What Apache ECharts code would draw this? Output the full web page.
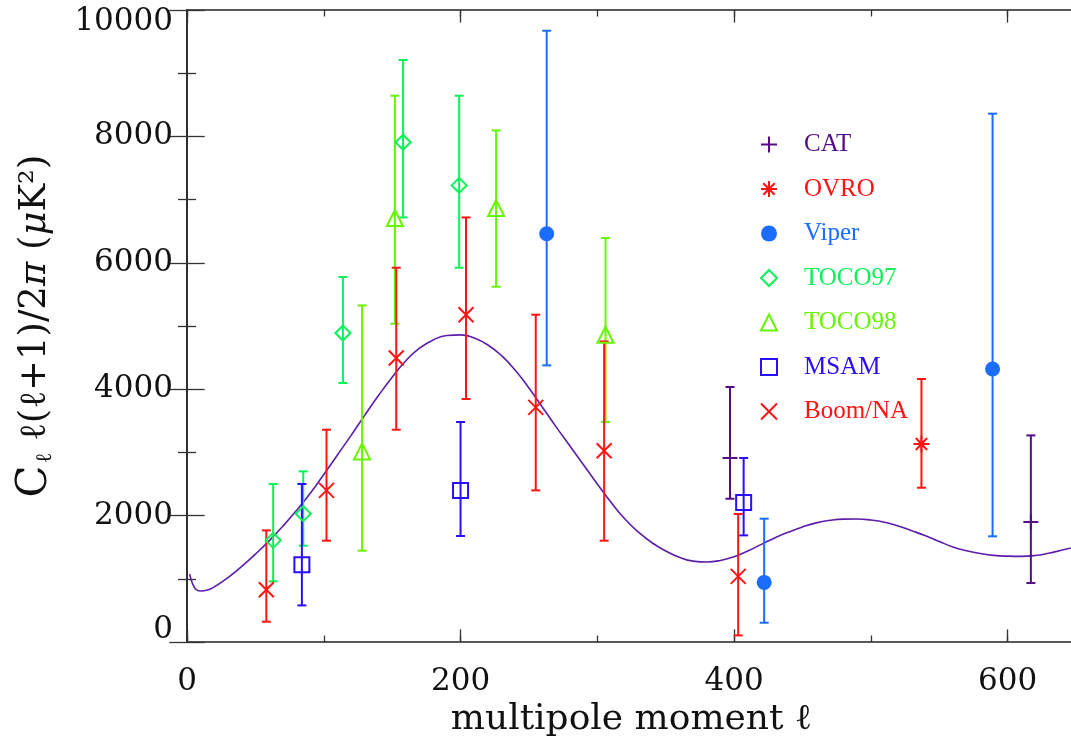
<!DOCTYPE html>
<html>
<head>
<meta charset="utf-8">
<script src="https://cdn.jsdelivr.net/npm/echarts@6/dist/echarts.min.js"></script>
<style>
html,body{margin:0;padding:0;background:#fff;}
#chart{width:1071px;height:740px;}
</style>
</head>
<body>
<div id="chart"></div>
<script>
// ---- data: [l, value, low, high] ----
const CAT    = [[397, 2911, 2267, 4035], [617, 1899, 933, 3269]];
const OVRO   = [[537, 3133, 2441, 4161]];
const VIPER  = [[263, 6460, 4377, 9672], [422, 943, 305, 1951], [589, 4320, 1672, 8360]];
const TOCO97 = [[63, 1608, 959, 2500], [85, 2030, 1524, 2700], [114, 4889, 4098, 5775], [158, 7907, 6718, 9209], [199, 7225, 5922, 8644]];
const TOCO98 = [[128, 3016, 1445, 5325], [152, 6709, 5036, 8644], [226, 6867, 5622, 8095], [306, 4862, 3481, 6392]];
const MSAM   = [[84, 1223, 579, 2500], [200, 2399, 1677, 3481], [407, 2209, 1687, 2911]];
const BOOM   = [[58, 828, 321, 1766], [102, 2399, 1603, 3359], [153, 4494, 3359, 5922], [204, 5179, 3845, 6718], [255, 3712, 2399, 5179], [305, 3027, 1603, 4756], [403, 1038, 104, 2025]];
// theory curve [l, value]
const THEORY = [[2,1075],[3,990],[5,880],[7,825],[10,808],[15,822],[20,872],[30,1020],[40,1195],[50,1390],[60,1600],[70,1830],[80,2080],[90,2350],[100,2650],[110,2960],[120,3270],[130,3590],[140,3900],[150,4190],[160,4450],[170,4650],[180,4780],[190,4850],[200,4860],[210,4810],[220,4700],[230,4530],[240,4300],[250,4020],[260,3710],[270,3400],[280,3100],[290,2800],[300,2500],[310,2210],[320,1950],[330,1740],[340,1570],[350,1440],[360,1340],[370,1280],[380,1266],[390,1290],[400,1350],[410,1440],[420,1545],[430,1650],[440,1740],[450,1820],[460,1885],[470,1925],[480,1944],[490,1946],[500,1930],[510,1895],[520,1835],[530,1760],[540,1680],[550,1590],[560,1505],[570,1445],[580,1400],[590,1370],[600,1358],[610,1355],[620,1368],[630,1405],[640,1455],[650,1505]];
const NAMES = ['CAT', 'OVRO', 'Viper', 'TOCO97', 'TOCO98', 'MSAM', 'Boom/NA'];
const X_TICKS = [0, 200, 400, 600];

const COLORS = {
  'CAT': '#540c88', 'OVRO': '#ff1212', 'Viper': '#1a6dff', 'TOCO97': '#0cf05a',
  'TOCO98': '#66f500', 'MSAM': '#2a0eff', 'Boom/NA': '#ff1414'
};
const CURVE_COLOR = '#5b1daa';
const SERIF = '"DejaVu Serif", serif';
const LEG_FONT = '"Liberation Serif", serif';

const SYM = {
  plus: 'path://M0,7L14,7M7,0L7,14',
  cross: 'path://M0,0L14,14M14,0L0,14',
  star: 'path://M0,9L18,9M9,0L9,18M2.6,2.6L15.4,15.4M15.4,2.6L2.6,15.4'
};
const CLEAR = 'rgba(0,0,0,0)';

function errorSeries(name, data) {
  const color = COLORS[name];
  return {
    type: 'custom', name: name + ' err', data: data, z: 2,
    xAxisIndex: 0, yAxisIndex: 0,
    renderItem: function (params, api) {
      const x = api.value(0);
      const pLo = api.coord([x, api.value(2)]);
      const pHi = api.coord([x, api.value(3)]);
      const hw = 4.5;
      const st = { stroke: color, lineWidth: 2 };
      return { type: 'group', children: [
        { type: 'line', shape: { x1: pLo[0], y1: pLo[1], x2: pHi[0], y2: pHi[1] }, style: st },
        { type: 'line', shape: { x1: pLo[0] - hw, y1: pLo[1], x2: pLo[0] + hw, y2: pLo[1] }, style: st },
        { type: 'line', shape: { x1: pHi[0] - hw, y1: pHi[1], x2: pHi[0] + hw, y2: pHi[1] }, style: st }
      ]};
    }
  };
}

function pointSeries(name, data, symbol, size, filled) {
  const color = COLORS[name];
  return {
    type: 'scatter', name: name, z: 3,
    xAxisIndex: 0, yAxisIndex: 0,
    data: data.map(d => [d[0], d[1]]),
    symbol: symbol, symbolSize: size,
    itemStyle: filled ? { color: color, opacity: 1 } :
      { color: CLEAR, borderColor: color, borderWidth: 2, opacity: 1 },
    emphasis: { disabled: true }
  };
}

const xCommon = { type: 'value', min: 0, max: 650, splitLine: { show: false } };
const axisLineStyle = { color: '#222', width: 1.5 };
const tickStyle = { color: '#333', width: 1.3 };

const option = {
  animation: false,
  backgroundColor: '#fff',
  grid: { left: 187, right: -5, top: 10, bottom: 98, outerBoundsMode: 'none', containLabel: false },
  legend: {
    orient: 'vertical', left: 760, top: 132, padding: 0,
    itemWidth: 16, itemHeight: 16, itemGap: 19.5,
    selectedMode: false,
    textStyle: { fontFamily: LEG_FONT, fontSize: 25, padding: [0, 0, 0, 22] },
    data: NAMES.map(n => ({ name: n, textStyle: { color: COLORS[n] } }))
  },
  xAxis: [
    Object.assign({}, xCommon, {
      position: 'bottom', interval: 200,
      axisLine: { show: true, lineStyle: axisLineStyle },
      axisTick: { show: true, inside: true, length: 12.6, lineStyle: tickStyle },
      axisLabel: {
        margin: 24, fontFamily: SERIF, fontSize: 31, color: '#111',
        formatter: v => (X_TICKS.indexOf(v) >= 0 ? String(v) : '')
      },
      name: 'multipole moment \u2113', nameLocation: 'middle', nameGap: 58,
      nameTextStyle: { fontFamily: SERIF, fontSize: 36, color: '#111' }
    }),
    Object.assign({}, xCommon, {
      position: 'bottom', interval: 100,
      axisLine: { show: false },
      axisTick: { show: true, inside: true, length: 6.5, lineStyle: tickStyle },
      axisLabel: { show: false }
    }),
    Object.assign({}, xCommon, {
      position: 'top', interval: 200,
      axisLine: { show: true, lineStyle: axisLineStyle },
      axisTick: { show: true, inside: true, length: 12.6, lineStyle: tickStyle },
      axisLabel: { show: false }
    }),
    Object.assign({}, xCommon, {
      position: 'top', interval: 100,
      axisLine: { show: false },
      axisTick: { show: true, inside: true, length: 6.5, lineStyle: tickStyle },
      axisLabel: { show: false }
    })
  ],
  yAxis: [
    {
      type: 'value', position: 'left', min: 0, max: 10000, interval: 2000,
      splitLine: { show: false },
      axisLine: { show: true, lineStyle: axisLineStyle },
      axisTick: { show: true, inside: true, length: 17.7, lineStyle: tickStyle },
      minorTick: { show: true, splitNumber: 2, length: 9, lineStyle: tickStyle },
      axisLabel: {
        margin: 14, fontFamily: SERIF, fontSize: 31, color: '#111', lineHeight: 24,
        verticalAlignMaxLabel: 'top', verticalAlignMinLabel: 'bottom',
        formatter: v => String(v)
      },
      name: '{c|C}{s|\u2113}{t| \u2113(\u2113+1)/2}{i|\u03c0}{t| (}{i|\u03bc}{t|K\u00b2)}',
      nameLocation: 'middle', nameGap: 131, nameRotate: 90,
      nameTextStyle: {
        color: '#111',
        rich: {
          c: { fontFamily: SERIF, fontSize: 42, color: '#111' },
          s: { fontFamily: SERIF, fontSize: 22, color: '#111', verticalAlign: 'bottom', padding: [16, 0, 0, 2] },
          t: { fontFamily: SERIF, fontSize: 37, color: '#111' },
          i: { fontFamily: SERIF, fontSize: 37, fontStyle: 'italic', color: '#111' }
        }
      }
    },
    {
      type: 'value', position: 'right', min: 0, max: 10000, interval: 2000,
      splitLine: { show: false },
      axisLine: { show: true, lineStyle: axisLineStyle },
      axisTick: { show: true, inside: true, length: 17.7, lineStyle: tickStyle },
      minorTick: { show: true, splitNumber: 2, length: 9, lineStyle: tickStyle },
      axisLabel: { show: false }
    }
  ],
  series: [
    {
      type: 'line', name: 'theory', data: THEORY, smooth: true, showSymbol: false,
      xAxisIndex: 0, yAxisIndex: 0, z: 1,
      lineStyle: { color: CURVE_COLOR, width: 1.6 }, emphasis: { disabled: true }
    },
    errorSeries('CAT', CAT), errorSeries('OVRO', OVRO), errorSeries('Viper', VIPER),
    errorSeries('TOCO97', TOCO97), errorSeries('TOCO98', TOCO98), errorSeries('MSAM', MSAM),
    errorSeries('Boom/NA', BOOM),
    pointSeries('CAT', CAT, SYM.plus, 15, false),
    pointSeries('OVRO', OVRO, SYM.star, [16, 17], false),
    pointSeries('Viper', VIPER, 'circle', 15, true),
    pointSeries('TOCO97', TOCO97, 'diamond', 15, false),
    pointSeries('TOCO98', TOCO98, 'triangle', 16, false),
    pointSeries('MSAM', MSAM, 'rect', 15, false),
    pointSeries('Boom/NA', BOOM, SYM.cross, 15, false)
  ]
};

const chart = echarts.init(document.getElementById('chart'), null, { renderer: 'canvas' });
chart.setOption(option);
</script>
</body>
</html>
